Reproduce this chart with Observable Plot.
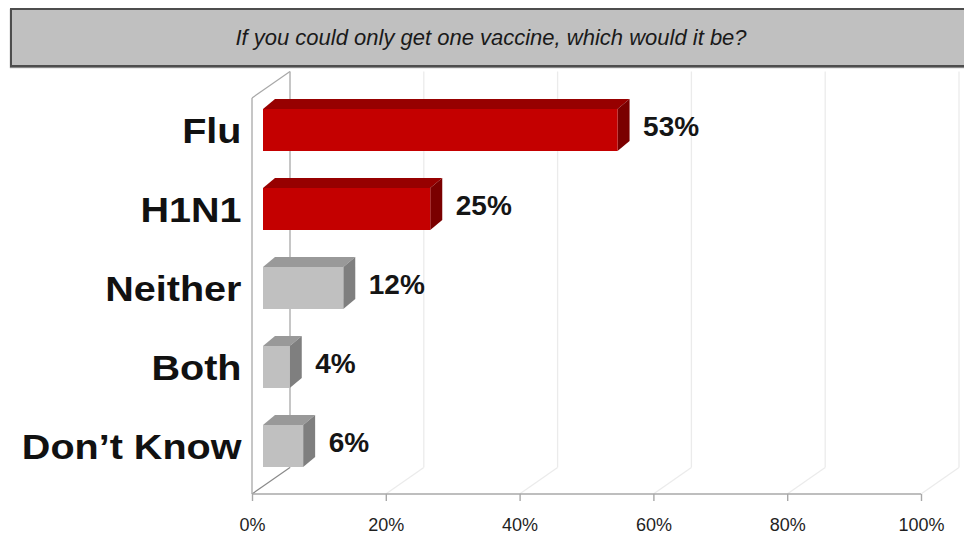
<!DOCTYPE html>
<html>
<head>
<meta charset="utf-8">
<script src="https://cdn.jsdelivr.net/npm/d3@7"></script>
<script src="https://cdn.jsdelivr.net/npm/@observablehq/plot@0.6"></script>
<style>
  html, body { margin: 0; padding: 0; background: #fff; }
  body { width: 964px; height: 535px; overflow: hidden; font-family: "Liberation Sans", Arial, sans-serif; }
  #title {
    margin: 8px 0 0 10px; width: 962px; height: 59px; box-sizing: border-box;
    border: 2px solid #4d4d4d; background: #c0c0c0;
    display: flex; align-items: center; justify-content: center;
    font-style: italic; font-size: 22px; color: #1a1a1a;
    box-shadow: 0 1px 1px #888;
  }
  #chart svg { display: block; }
</style>
</head>
<body>
<div id="title">If you could only get one vaccine, which would it be?</div>
<div id="chart"></div>
<script>
// ---- data ----
const categories = ["Flu", "H1N1", "Neither", "Both", "Don\u2019t Know"];
const values = [53, 25, 12, 4, 6];
const kinds = ["Vaccine", "Vaccine", "Other", "Other", "Other"];
const valueLabels = ["53%", "25%", "12%", "4%", "6%"];
const xTicks = [0, 20, 40, 60, 80, 100];
const xTickLabels = ["0%", "20%", "40%", "60%", "80%", "100%"];

const rows = categories.map((c, i) => ({category: c, value: values[i], kind: kinds[i], label: valueLabels[i]}));

// ---- 3D styling ----
const DX = 38, DY = -26.5;   // wall depth
const BX = 11, BY = -8;      // bar plane offset from front plane
const TX = 12, TY = -10;     // bar depth
const shades = {
  Vaccine: {front: "#c40000", top: "#970000", side: "#7a0000"},
  Other:   {front: "#c0c0c0", top: "#999999", side: "#7f7f7f"}
};

const walls = (index, scales, vals, dim) => {
  const x = scales.x;
  const top = dim.marginTop, bottom = dim.height - dim.marginBottom;
  const g = d3.create("svg:g").attr("fill", "none");
  xTicks.forEach(t => {
    const X = x(t);
    g.append("line").attr("x1", X + DX).attr("x2", X + DX)
      .attr("y1", top + DY).attr("y2", bottom + DY)
      .attr("stroke", t === xTicks[0] ? "#a8a8a8" : "#ebebeb").attr("stroke-width", 1.3);
    g.append("line").attr("x1", X).attr("y1", bottom)
      .attr("x2", X + DX).attr("y2", bottom + DY)
      .attr("stroke", t === xTicks[0] ? "#8a8a8a" : "#ebebeb").attr("stroke-width", 1.2);
  });
  const X0 = x(xTicks[0]), X1 = x(xTicks[xTicks.length - 1]);
  g.append("line").attr("x1", X0).attr("x2", X0).attr("y1", top).attr("y2", bottom)
    .attr("stroke", "#a8a8a8").attr("stroke-width", 1.3);
  g.append("line").attr("x1", X0).attr("y1", top).attr("x2", X0 + DX).attr("y2", top + DY)
    .attr("stroke", "#a8a8a8").attr("stroke-width", 1.2);
  g.append("line").attr("x1", X0).attr("x2", X1).attr("y1", bottom).attr("y2", bottom)
    .attr("stroke", "#a8a8a8").attr("stroke-width", 1.6);
  return g.node();
};

const bars3d = (index, scales) => {
  const {x, y} = scales;
  const bw = y.bandwidth();
  const g = d3.create("svg:g");
  rows.forEach(d => {
    const x0 = x(0) + BX, x1 = x(d.value) + BX;
    const y0 = y(d.category) + BY, y1 = y0 + bw;
    const s = shades[d.kind];
    g.append("polygon")
      .attr("points", [[x0, y0], [x1, y0], [x1 + TX, y0 + TY], [x0 + TX, y0 + TY]].join(" "))
      .attr("fill", s.top);
    g.append("polygon")
      .attr("points", [[x1, y0], [x1 + TX, y0 + TY], [x1 + TX, y1 + TY], [x1, y1]].join(" "))
      .attr("fill", s.side);
  });
  return g.node();
};

const chart = Plot.plot({
  width: 964,
  height: 468,
  marginLeft: 252,
  marginRight: 43,
  marginTop: 31,
  marginBottom: 41,
  style: {fontFamily: "'Liberation Sans', Arial, sans-serif", background: "transparent", overflow: "visible"},
  x: {domain: [0, 100], axis: null},
  y: {domain: categories, paddingInner: 0.47, paddingOuter: 0.233, axis: null},
  color: {domain: ["Vaccine", "Other"], range: [shades.Vaccine.front, shades.Other.front]},
  marks: [
    walls,
    Plot.axisX({
      ticks: xTicks,
      tickFormat: d => xTickLabels[xTicks.indexOf(d)],
      tickSize: 7, tickPadding: 17, fontSize: 18,
      stroke: "#a8a8a8", strokeWidth: 1.4, fill: "#1f1f1f", label: null
    }),
    bars3d,
    Plot.barX(rows, {x: "value", y: "category", fill: "kind", dx: BX, dy: BY}),
    Plot.text(rows, {
      x: "value", y: "category", text: "label",
      textAnchor: "start", dx: BX + 25, dy: -11.5,
      fontSize: 28, fontWeight: "bold", fill: "#151515"
    }),
    Plot.text(categories, {
      y: d => d, text: d => d, frameAnchor: "left",
      textAnchor: "end", dx: -11, dy: -6.5,
      fontSize: 35, fontWeight: "bold", fill: "#111"
    })
  ]
});

document.getElementById("chart").appendChild(chart);

// widen the bold category labels slightly, as in the original
chart.querySelectorAll("text").forEach(t => {
  if (categories.includes(t.textContent)) {
    const L = t.getComputedTextLength();
    t.setAttribute("textLength", (L * 1.13).toFixed(1));
    t.setAttribute("lengthAdjust", "spacingAndGlyphs");
  }
});
</script>
</body>
</html>
